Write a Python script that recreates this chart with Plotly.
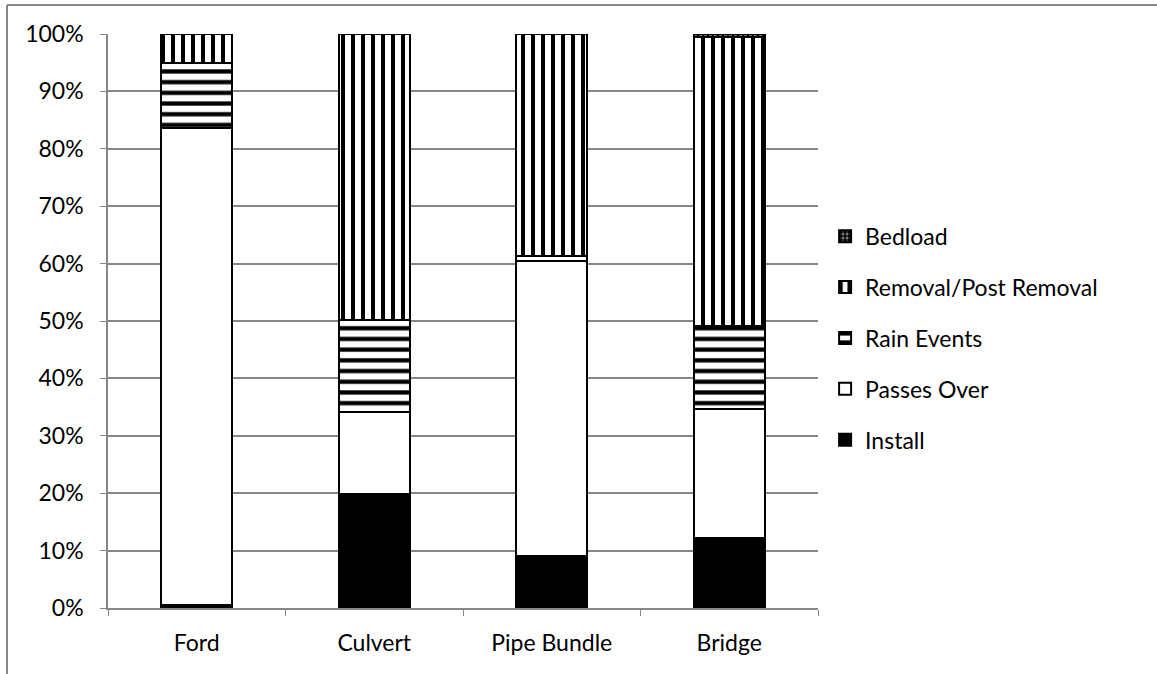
import plotly.graph_objects as go

categories = ["Ford", "Culvert", "Pipe Bundle", "Bridge"]
install = [0.5, 19.8, 9.0, 12.2]
passes_over = [83.2, 14.3, 51.5, 22.5]
rain_events = [11.2, 16.1, 0.9, 14.4]
removal = [5.1, 49.8, 38.6, 50.4]
bedload = [0.0, 0.0, 0.0, 0.5]
y_ticks = list(range(0, 101, 10))
y_ticklabels = [f"{v}%" for v in y_ticks]

W, H = 1157, 674
L, R, T, B = 108, 818, 34, 608

FONT = dict(family="Lato, 'Open Sans', sans-serif", size=23, color="#000000")

fig = go.Figure()

series = [
    ("Install", install, dict(color="#000000"), 5),
    ("Passes Over", passes_over, dict(color="#ffffff"), 4),
    ("Rain Events", rain_events, dict(color="#ffffff",
        pattern=dict(shape="-", fgcolor="#000000", fgopacity=1, bgcolor="#ffffff", size=10.7, solidity=0.4, fillmode="overlay")), 3),
    ("Removal/Post Removal", removal, dict(color="#ffffff",
        pattern=dict(shape="|", fgcolor="#000000", fgopacity=1, bgcolor="#ffffff", size=10, solidity=0.4, fillmode="overlay")), 2),
    ("Bedload", bedload, dict(color="#000000",
        pattern=dict(shape=".", fgcolor="#ffffff", bgcolor="#000000", size=5, solidity=0.4, fillmode="overlay")), 1),
]

for i, (name, vals, mk, rank) in enumerate(series):
    mk = dict(mk)
    mk["line"] = dict(color="#000000", width=2)
    fig.add_trace(go.Bar(
        x=categories, y=vals, name=name, marker=mk,
        legendgroup=f"g{i}", legendrank=rank,
    ))

def px_x(p):
    return (p - L) / (R - L)

def px_y(p):
    return (B - p) / (B - T)

shapes = [
    dict(type="line", xref="paper", yref="paper", x0=px_x(7), x1=px_x(7), y0=px_y(5), y1=px_y(680),
         line=dict(color="#868686", width=2)),
    dict(type="line", xref="paper", yref="paper", x0=px_x(7), x1=px_x(1160), y0=px_y(5), y1=px_y(5),
         line=dict(color="#868686", width=2)),
]

fig.update_layout(
    width=W, height=H,
    margin=dict(l=L, r=W - R, t=T, b=H - B),
    barmode="stack",
    bargap=0.6,
    plot_bgcolor="#ffffff",
    paper_bgcolor="#ffffff",
    font=FONT,
    showlegend=True,
    legend=dict(
        x=1.01, xanchor="left", y=0.47, yanchor="middle",
        traceorder="grouped", tracegroupgap=18,
        font=FONT, bgcolor="rgba(0,0,0,0)",
    ),
    shapes=shapes,
    xaxis=dict(
        showline=True, linecolor="#868686", linewidth=1.5,
        ticks="outside", tickson="boundaries", ticklen=6, tickcolor="#868686",
        showgrid=False, tickfont=FONT, ticklabelstandoff=14,
    ),
    yaxis=dict(
        range=[0, 100], tickvals=y_ticks, ticktext=y_ticklabels,
        showline=True, linecolor="#868686", linewidth=1.5,
        ticks="outside", ticklen=6, tickcolor="#868686",
        showgrid=True, gridcolor="#868686", gridwidth=1.5,
        zeroline=False, tickfont=FONT, ticklabelstandoff=12,
    ),
)

fig.write_html("out.html", config={"displayModeBar": False},
               post_script="document.body.style.margin='0';")
